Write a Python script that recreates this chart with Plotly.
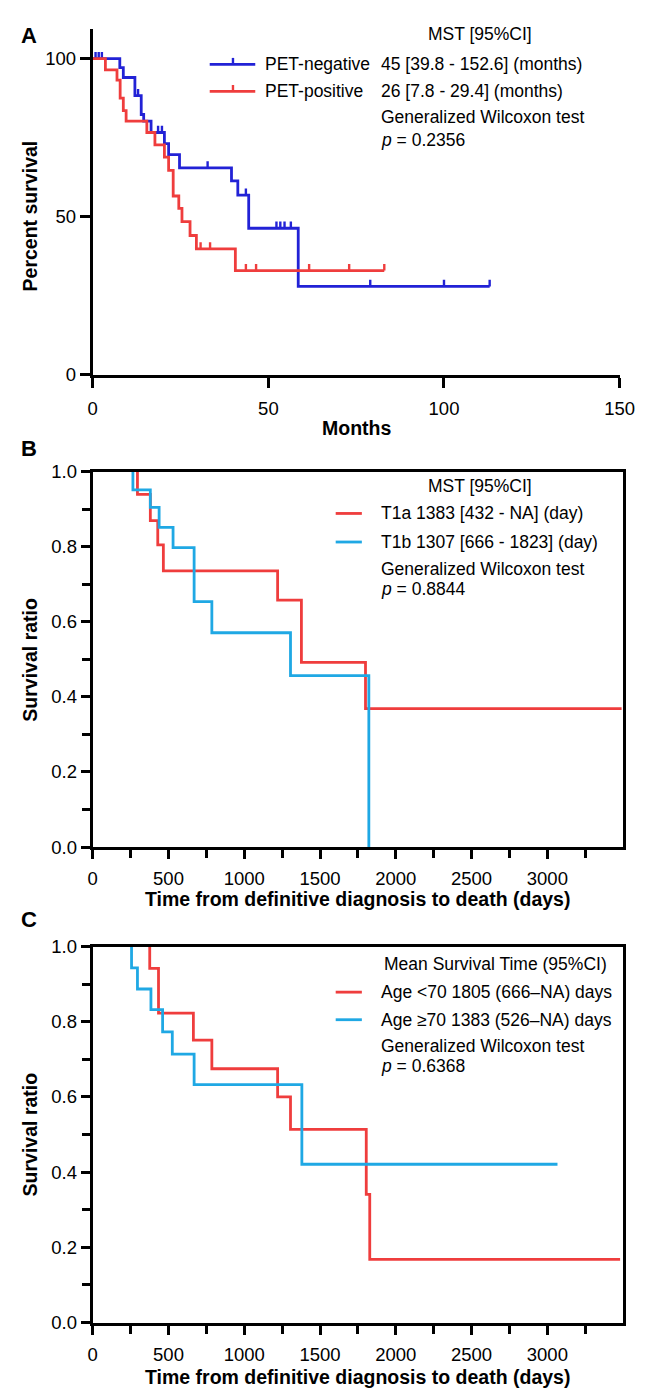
import numpy as np
import plotly.graph_objects as go

# ---------------- data ----------------
# Panel A (months, percent survival)
a_neg_time = [0, 7.7, 8.7, 12.0, 13.8, 14.5, 16.6, 20.4, 21.6, 24.7, 39.5, 41.3, 44.4, 58.5, 113]
a_neg_surv = [100, 97.1, 94.0, 88.3, 82.3, 80.2, 76.6, 73.1, 69.6, 65.4, 61.3, 56.8, 46.3, 27.9, 27.9]
a_neg_censor = [0.8, 1.7, 2.6, 12.9, 18.6, 19.7, 32.7, 43.6, 52.3, 53.4, 54.6, 56.4, 79, 100, 113]
a_pos_time = [0, 3.6, 6.9, 7.8, 8.7, 9.5, 15.4, 17.7, 20.4, 21.6, 22.9, 24.5, 25.4, 27.7, 29.5, 40.6, 83]
a_pos_surv = [100, 96.4, 93.2, 87.5, 83.5, 80.2, 76.6, 72.7, 68.8, 64.6, 56.5, 52.6, 48.4, 44.0, 39.8, 32.9, 32.9]
a_pos_censor = [30.7, 33.4, 43.6, 46.5, 61.6, 73, 83]
a_names = ["PET-negative", "PET-positive"]
a_mst = ["45 [39.8 - 152.6] (months)", "26 [7.8 - 29.4] (months)"]
a_p = "0.2356"

# Panel B (days, survival ratio)
b_t1a_time = [295, 380, 429, 466, 1220, 1377, 1800, 3490]
b_t1a_surv = [0.94, 0.87, 0.805, 0.736, 0.658, 0.492, 0.369, 0.369]
b_t1b_time = [265, 380, 438, 530, 669, 786, 1305, 1822]
b_t1b_surv = [0.952, 0.905, 0.852, 0.798, 0.654, 0.571, 0.457, 0.0]
b_labels = ["T1a 1383 [432 - NA] (day)", "T1b 1307 [666 - 1823] (day)"]
b_p = "0.8844"

# Panel C (days, survival ratio)
c_lt70_time = [376, 434, 664, 786, 1220, 1305, 1805, 1828, 3480]
c_lt70_surv = [0.942, 0.823, 0.751, 0.675, 0.600, 0.514, 0.341, 0.168, 0.168]
c_ge70_time = [256, 295, 384, 461, 525, 669, 1380, 3067]
c_ge70_surv = [0.943, 0.887, 0.832, 0.773, 0.714, 0.633, 0.421, 0.421]
c_labels = ["Age <70 1805 (666\u2013NA) days", "Age \u226570 1383 (526\u2013NA) days"]
c_p = "0.6368"

# ---------------- styling ----------------
W, H = 646, 1396
BLUE = "#2222d6"
RED = "#ef3d3d"
CYAN = "#1fa8e4"
FONT = "Liberation Sans, Arial, sans-serif"
LW = 2.8


def pxx(x):
    return x / W


def pxy(y):
    return 1 - y / H


def censor_segments(censor, times, surv, h):
    xs, ys = [], []
    t = np.asarray(times)
    for c in censor:
        i = int(np.searchsorted(t, c, side="right")) - 1
        s = surv[max(i, 0)]
        xs += [c, c, None]
        ys += [s, s + h, None]
    return xs, ys


fig = go.Figure()

# Panel A curves
for tm, sv, cen, col, nm in [
    (a_neg_time, a_neg_surv, a_neg_censor, BLUE, a_names[0]),
    (a_pos_time, a_pos_surv, a_pos_censor, RED, a_names[1]),
]:
    fig.add_trace(go.Scatter(x=tm, y=sv, mode="lines", line=dict(color=col, width=LW, shape="hv"),
                             name=nm, showlegend=False, xaxis="x", yaxis="y"))
    cx, cy = censor_segments(cen, tm, sv, 2.1)
    fig.add_trace(go.Scatter(x=cx, y=cy, mode="lines", line=dict(color=col, width=2.4),
                             name=nm + " censored", showlegend=False, xaxis="x", yaxis="y"))

# Panel B curves
for tm, sv, col, nm in [
    (b_t1a_time, b_t1a_surv, RED, "T1a"),
    (b_t1b_time, b_t1b_surv, CYAN, "T1b"),
]:
    x, y = [tm[0]] + tm, [1.0] + sv
    fig.add_trace(go.Scatter(x=x, y=y, mode="lines", line=dict(color=col, width=LW, shape="hv"),
                             name=nm, showlegend=False, xaxis="x2", yaxis="y2"))

# Panel C curves
for tm, sv, col, nm in [
    (c_lt70_time, c_lt70_surv, RED, "Age <70"),
    (c_ge70_time, c_ge70_surv, CYAN, "Age \u226570"),
]:
    x, y = [tm[0]] + tm, [1.0] + sv
    fig.add_trace(go.Scatter(x=x, y=y, mode="lines", line=dict(color=col, width=LW, shape="hv"),
                             name=nm, showlegend=False, xaxis="x3", yaxis="y3"))

tickfont = dict(family=FONT, size=18.5, color="black")
axcommon = dict(showline=True, linecolor="black", linewidth=3, ticks="outside", tickwidth=3,
                ticklen=10, tickcolor="black", showgrid=False, zeroline=False, tickfont=tickfont)

XD_A = [pxx(82.3), pxx(626)]
XD_BC = [pxx(82.3), pxx(629.6)]
X_TICKS_DAYS = [0, 500, 1000, 1500, 2000, 2500, 3000]
X_MINOR_DAYS = [250, 750, 1250, 1750, 2250, 2750, 3250]
Y_TICKS_RATIO = [0, 0.2, 0.4, 0.6, 0.8, 1.0]
Y_MINOR_RATIO = [0.1, 0.3, 0.5, 0.7, 0.9]
minor_x = dict(tickvals=X_MINOR_DAYS, ticks="outside", ticklen=8, tickwidth=3, tickcolor="black", showgrid=False)
minor_y = dict(tickvals=Y_MINOR_RATIO, ticks="outside", ticklen=8, tickwidth=3, tickcolor="black", showgrid=False)

layout = dict(
    width=W, height=H, margin=dict(l=0, r=0, t=0, b=0),
    paper_bgcolor="white", plot_bgcolor="white", showlegend=False,
    font=dict(family=FONT, color="black"),
    xaxis=dict(axcommon, domain=XD_A, range=[0, 150], tickvals=[0, 50, 100, 150], anchor="y",
               ticklabelstandoff=5),
    yaxis=dict(axcommon, domain=[pxy(361), pxy(10)], range=[0, 109.4], tickvals=[0, 50, 100], anchor="x"),
    xaxis2=dict(axcommon, domain=XD_BC, range=[0, 3500], tickvals=X_TICKS_DAYS,
                mirror=True, ticklen=9, anchor="y2", minor=minor_x, ticklabelstandoff=4),
    yaxis2=dict(axcommon, domain=[pxy(840.7), pxy(459.7)], range=[0, 1], tickvals=Y_TICKS_RATIO,
                tickformat=".1f", mirror=True, ticklen=9, anchor="x2", minor=minor_y),
    xaxis3=dict(axcommon, domain=XD_BC, range=[0, 3500], tickvals=X_TICKS_DAYS,
                mirror=True, ticklen=9, anchor="y3", minor=minor_x, ticklabelstandoff=4),
    yaxis3=dict(axcommon, domain=[pxy(1323.5), pxy(941.7)], range=[0, 1], tickvals=Y_TICKS_RATIO,
                tickformat=".1f", mirror=True, ticklen=9, anchor="x3", minor=minor_y),
)
fig.update_layout(**layout)

ann = []


def txt(x, y, s, size=17.5, xanchor="left", bold=False, angle=0):
    ann.append(dict(x=pxx(x), y=pxy(y), xref="paper", yref="paper", text=("<b>%s</b>" % s) if bold else s,
                    showarrow=False, xanchor=xanchor, yanchor="middle", textangle=angle,
                    font=dict(family=FONT, size=size, color="black")))


# panel letters
txt(17, 17, "A", size=22, xanchor="center", bold=True)
txt(17, 436, "B", size=22, xanchor="center", bold=True)
txt(17, 914, "C", size=22, xanchor="center", bold=True)

# axis titles
txt(18, 200, "Percent survival", size=19.5, xanchor="center", bold=True, angle=-90)
txt(354, 415, "Months", size=19.5, xanchor="center", bold=True)
txt(18, 650, "Survival ratio", size=19.5, xanchor="center", bold=True, angle=-90)
txt(356, 893, "Time from definitive diagnosis to death (days)", size=19.5, xanchor="center", bold=True)
txt(18, 1132, "Survival ratio", size=19.5, xanchor="center", bold=True, angle=-90)
txt(356, 1379, "Time from definitive diagnosis to death (days)", size=19.5, xanchor="center", bold=True)

# Panel A legend
txt(482, 15, "MST [95%CI]", xanchor="center")
txt(258, 46, a_names[0])
txt(378, 46, a_mst[0])
txt(258, 73.5, a_names[1])
txt(378, 73.5, a_mst[1])
txt(378, 100, "Generalized Wilcoxon test")
txt(378, 123, "<i>p</i> = " + a_p)

# Panel B legend
txt(482, 474, "MST [95%CI]", xanchor="center")
txt(378, 502, b_labels[0])
txt(378, 531, b_labels[1])
txt(378, 558, "Generalized Wilcoxon test")
txt(378, 579, "<i>p</i> = " + b_p)

# Panel C legend
txt(498, 959, "Mean Survival Time (95%CI)", xanchor="center")
txt(378, 988, c_labels[0])
txt(378, 1016, c_labels[1])
txt(378, 1043, "Generalized Wilcoxon test")
txt(378, 1063, "<i>p</i> = " + c_p)

shapes = []


def seg(x0, y0, x1, y1, col, w=LW):
    shapes.append(dict(type="line", xref="paper", yref="paper", x0=pxx(x0), y0=pxy(y0),
                       x1=pxx(x1), y1=pxy(y1), line=dict(color=col, width=w)))


seg(203, 46, 250, 46, BLUE)
seg(227, 46, 227, 39.5, BLUE, 2.4)
seg(203, 73.5, 250, 73.5, RED)
seg(227, 73.5, 227, 67, RED, 2.4)
seg(333, 502, 360, 502, RED)
seg(333, 531, 360, 531, CYAN)
seg(333, 988, 360, 988, RED)
seg(333, 1016, 360, 1016, CYAN)

fig.update_layout(annotations=ann, shapes=shapes)
fig.write_html("out.html")
